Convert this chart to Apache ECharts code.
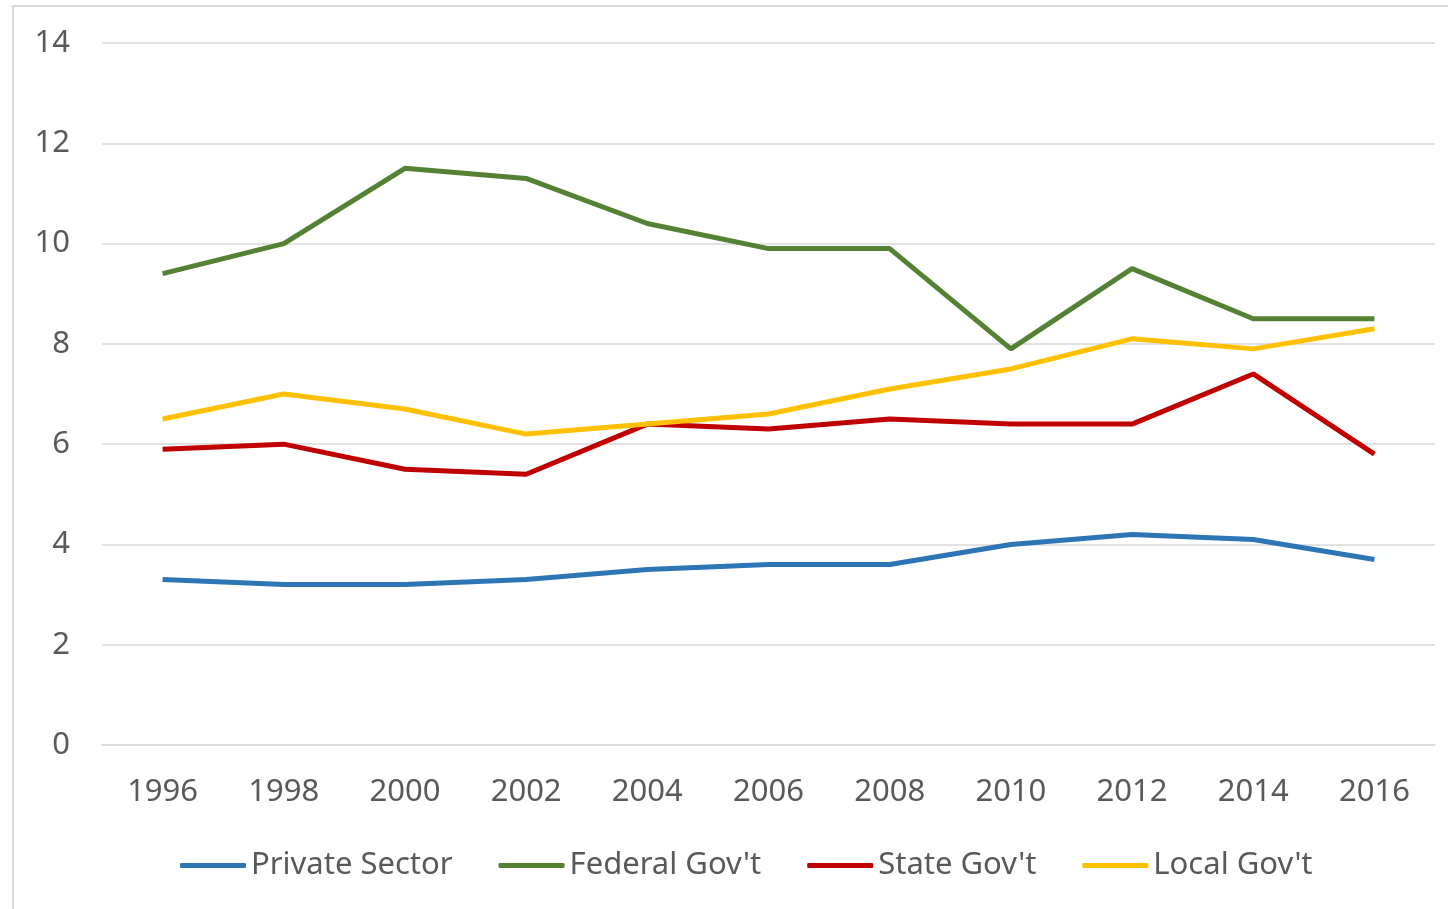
<!DOCTYPE html>
<html>
<head>
<meta charset="utf-8">
<script src="https://cdn.jsdelivr.net/npm/echarts@6/dist/echarts.min.js"></script>
<style>
  html, body { margin: 0; padding: 0; background: #fff; overflow: hidden; }
  #frame { position: absolute; left: 12px; top: 5px; width: 1500px; height: 1000px;
           border-top: 2px solid #d9d9d9; border-left: 2px solid #d9d9d9; }
  #chart { position: absolute; left: 0; top: 0; width: 1448px; height: 909px; }
</style>
</head>
<body>
<div id="frame"></div>
<div id="chart"></div>
<script>
var years = ['1996', '1998', '2000', '2002', '2004', '2006', '2008', '2010', '2012', '2014', '2016'];
var privateSector = [3.3, 3.2, 3.2, 3.3, 3.5, 3.6, 3.6, 4.0, 4.2, 4.1, 3.7];
var federalGov = [9.4, 10.0, 11.5, 11.3, 10.4, 9.9, 9.9, 7.9, 9.5, 8.5, 8.5];
var stateGov = [5.9, 6.0, 5.5, 5.4, 6.4, 6.3, 6.5, 6.4, 6.4, 7.4, 5.8];
var localGov = [6.5, 7.0, 6.7, 6.2, 6.4, 6.6, 7.1, 7.5, 8.1, 7.9, 8.3];

var chart = echarts.init(document.getElementById('chart'));
var font = 'Noto Sans';

function line(name, data, color) {
  return {
    name: name,
    type: 'line',
    data: data,
    symbol: 'none',
    lineStyle: { color: color, width: 5 },
    itemStyle: { color: color },
    z: 3
  };
}

var option = {
  backgroundColor: 'transparent',
  animation: false,
  grid: { left: 102, right: 13, top: 43, bottom: 164 },
  legend: {
    top: 845,
    left: 175,
    icon: 'roundRect',
    itemWidth: 66,
    itemHeight: 5,
    itemGap: 46,
    textStyle: { fontFamily: font, fontSize: 31, color: '#595959' },
    data: ['Private Sector', "Federal Gov't", "State Gov't", "Local Gov't"]
  },
  xAxis: {
    type: 'category',
    data: years,
    boundaryGap: true,
    axisLine: { lineStyle: { color: '#d9d9d9', width: 1.5 } },
    axisTick: { show: false },
    axisLabel: { fontFamily: font, fontSize: 31, color: '#595959', margin: 32 }
  },
  yAxis: {
    type: 'value',
    min: 0,
    max: 14,
    interval: 2,
    axisLine: { show: false },
    axisTick: { show: false },
    splitLine: { lineStyle: { color: '#d9d9d9', width: 1.5 } },
    axisLabel: { fontFamily: font, fontSize: 31, color: '#595959', margin: 32 }
  },
  series: [
    line('Private Sector', privateSector, '#2e75b6'),
    line("Federal Gov't", federalGov, '#548235'),
    line("State Gov't", stateGov, '#c00000'),
    line("Local Gov't", localGov, '#ffc000')
  ]
};

chart.setOption(option);
</script>
</body>
</html>
